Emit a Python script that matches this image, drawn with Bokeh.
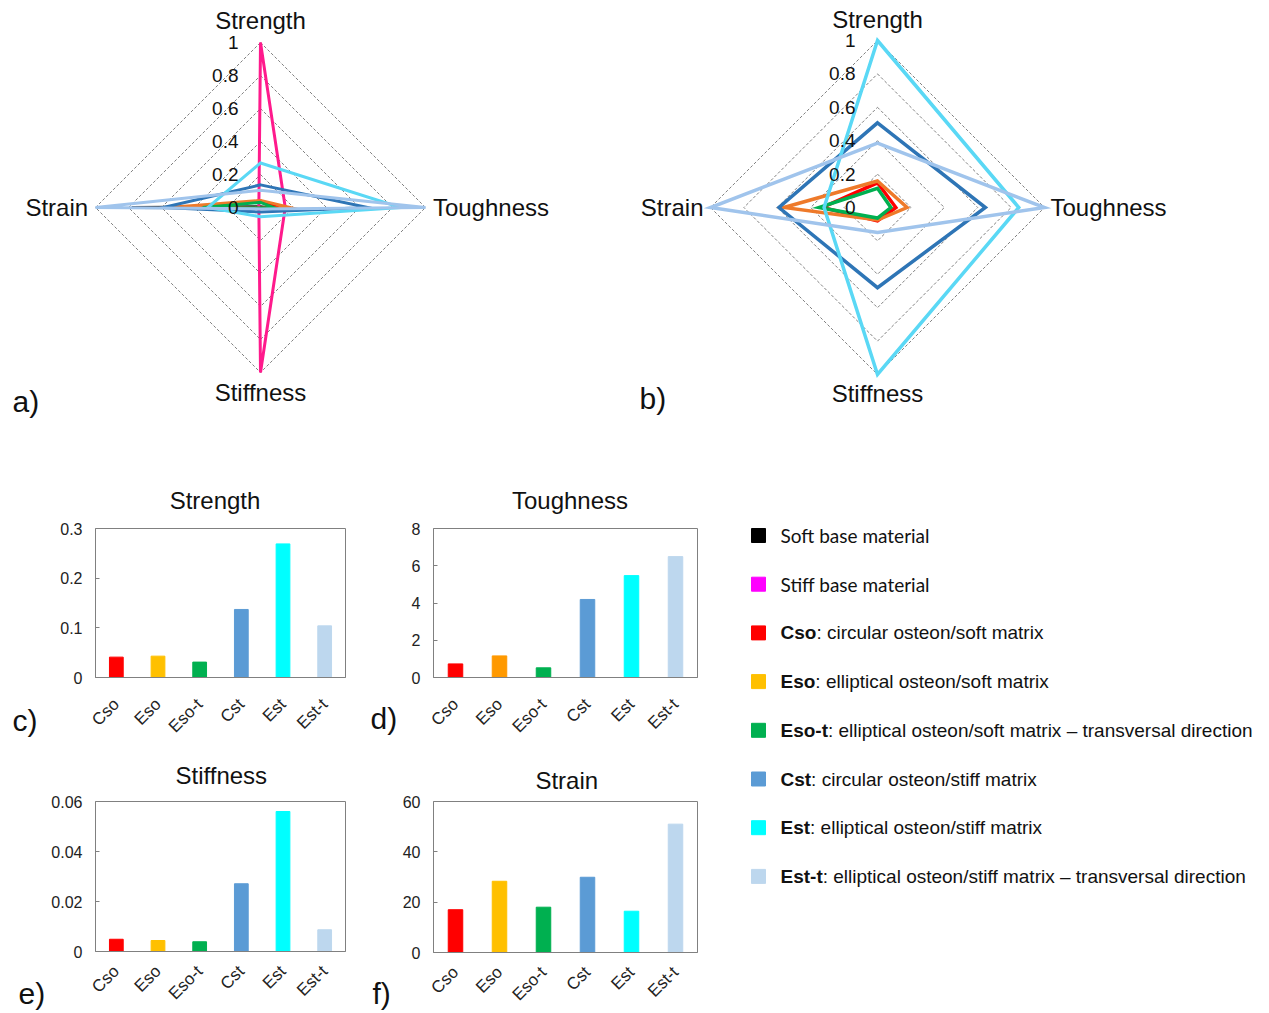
import math
from bokeh.plotting import figure
from bokeh.layouts import row, column
from bokeh.models import Range1d, FactorRange, FixedTicker
from bokeh.core.properties import value
from bokeh.embed import file_html
from bokeh.resources import INLINE

# ---------------- data ----------------
AXES = ["Strength", "Toughness", "Stiffness", "Strain"]
RING_LEVELS = [0.2, 0.4, 0.6, 0.8, 1.0]
RING_TICK_VALUES = [0, 0.2, 0.4, 0.6, 0.8, 1.0]
RING_TICK_LABELS = ["0", "0.2", "0.4", "0.6", "0.8", "1"]

# radar a) values normalised including base materials (Strength, Toughness, Stiffness, Strain)
a_soft = [0.004, 0.04, 0.002, 0.78]
a_stiff = [1.0, 0.15, 1.0, 0.01]
a_cso = [0.040, 0.11, 0.005, 0.33]
a_eso = [0.043, 0.18, 0.004, 0.56]
a_esot = [0.031, 0.08, 0.0035, 0.35]
a_cst = [0.137, 0.65, 0.027, 0.59]
a_est = [0.270, 0.85, 0.056, 0.32]
a_estt = [0.104, 1.0, 0.0085, 1.0]

# radar b) values normalised among composites only
b_cso = [0.148, 0.11, 0.08, 0.33]
b_eso = [0.159, 0.177, 0.075, 0.56]
b_esot = [0.115, 0.08, 0.063, 0.35]
b_cst = [0.507, 0.646, 0.48, 0.59]
b_est = [1.0, 0.846, 1.0, 0.32]
b_estt = [0.385, 1.0, 0.15, 1.0]

CATEGORIES = ["Cso", "Eso", "Eso-t", "Cst", "Est", "Est-t"]
strength_vals = [0.041, 0.043, 0.031, 0.137, 0.269, 0.104]
toughness_vals = [0.73, 1.16, 0.52, 4.19, 5.47, 6.49]
stiffness_vals = [0.0049, 0.0044, 0.0039, 0.0271, 0.0560, 0.0087]
strain_vals = [17.0, 28.3, 18.0, 29.9, 16.4, 51.0]

strength_ticks = [0, 0.1, 0.2, 0.3]
strength_tick_labels = ["0", "0.1", "0.2", "0.3"]
toughness_ticks = [0, 2, 4, 6, 8]
toughness_tick_labels = ["0", "2", "4", "6", "8"]
stiffness_ticks = [0, 0.02, 0.04, 0.06]
stiffness_tick_labels = ["0", "0.02", "0.04", "0.06"]
strain_ticks = [0, 20, 40, 60]
strain_tick_labels = ["0", "20", "40", "60"]

LEGEND_CODES = ["", "", "Cso", "Eso", "Eso-t", "Cst", "Est", "Est-t"]
LEGEND_DESC = ["Soft base material", "Stiff base material",
               ": circular osteon/soft matrix",
               ": elliptical osteon/soft matrix",
               ": elliptical osteon/soft matrix \u2013 transversal direction",
               ": circular osteon/stiff matrix",
               ": elliptical osteon/stiff matrix",
               ": elliptical osteon/stiff matrix \u2013 transversal direction"]

# ---------------- styles ----------------
AXIS_ANGLES = [math.pi / 2, 0.0, -math.pi / 2, math.pi]
FONT = "Liberation Sans"
TXT = "#111111"
C_SOFT = "#1a1a1a"
C_STIFF = "#FF1A8C"
C_CSO = "#FF0000"
C_ESO = "#EE7A2A"
C_ESOT = "#00B050"
C_CST = "#2E75B6"
C_EST = "#5AD8F5"
C_ESTT = "#A0C4EC"

BAR_COLORS = ["#FF0000", "#FFC000", "#00B050", "#5B9BD5", "#00FFFF", "#BDD7EE"]
BAR_COLORS_T = ["#FF0000", "#FF9900", "#00B050", "#5B9BD5", "#00FFFF", "#BDD7EE"]
LEGEND_COLORS = ["#000000", "#FF00FF", "#FF0000", "#FFC000", "#00B050", "#5B9BD5", "#00FFFF", "#BDD7EE"]


def blank_fig(width, height, x_range, y_range):
    p = figure(width=width, height=height, x_range=x_range, y_range=y_range,
               output_backend="svg", toolbar_location=None, x_axis_location=None,
               y_axis_location=None, min_border=0, min_border_left=0, min_border_right=0,
               min_border_top=0, min_border_bottom=0)
    p.grid.visible = False
    p.outline_line_color = None
    return p


def px_fig(width, height):
    # frame in local pixel units, y downward
    return blank_fig(width, height, Range1d(0, width), Range1d(height, 0))


def put(p, x, y, txt, size, align="left", font=FONT, style="normal"):
    p.text(x=[x], y=[y], text=[txt], text_align=align, text_baseline="middle",
           text_font=value(font), text_font_size=value(size), text_font_style=style,
           text_color=TXT)


def radar_fig(width, height, cx, cy, r, series, lw, label_pos, extra_texts):
    p = blank_fig(width, height, Range1d(-cx / r, (width - cx) / r),
                  Range1d(-(height - cy) / r, cy / r))
    for lv in RING_LEVELS:
        xs = [lv * math.cos(a) for a in AXIS_ANGLES]
        ys = [lv * math.sin(a) for a in AXIS_ANGLES]
        p.patch(xs, ys, fill_alpha=0, line_color="#808080", line_width=1, line_dash="3 2")
    for vals, col in series:
        xs = [v * math.cos(a) for v, a in zip(vals, AXIS_ANGLES)]
        ys = [v * math.sin(a) for v, a in zip(vals, AXIS_ANGLES)]
        p.patch(xs, ys, fill_alpha=0, line_color=col, line_width=lw, line_join="miter")
    p.text(x=[0] * len(RING_TICK_VALUES), y=RING_TICK_VALUES, text=RING_TICK_LABELS,
           x_offset=-22, text_align="right", text_baseline="middle",
           text_font=value(FONT), text_font_size=value("19px"), text_color=TXT)
    aligns = ["center", "left", "center", "right"]
    for name, (lx, ly), al in zip(AXES, label_pos, aligns):
        put(p, lx, ly, name, "24px", al)
    # extra texts given in local pixel positions
    for (tx, ty, txt, size, al) in extra_texts:
        put(p, (tx - cx) / r, (cy - ty) / r, txt, size, al)
    return p


TOP_H = 515
A_W = 630
pa = radar_fig(A_W, TOP_H, 260, 207, 165,
               [(a_soft, C_SOFT), (a_stiff, C_STIFF), (a_cso, C_CSO), (a_eso, C_ESO),
                (a_esot, C_ESOT), (a_cst, C_CST), (a_est, C_EST), (a_estt, C_ESTT)],
               3, [(0, 1.133), (1.045, 0), (0, -1.121), (-1.045, 0)],
               [(12, 401, "a)", "30px", "left"),
                (214.5, 500, "Strength", "24px", "center"),
                (569.5, 500, "Toughness", "24px", "center")])
pb = radar_fig(635, TOP_H, 877 - A_W, 207, 167,
               [(b_cso, C_CSO), (b_eso, C_ESO), (b_esot, C_ESOT), (b_cst, C_CST),
                (b_est, C_EST), (b_estt, C_ESTT)],
               3.5, [(0, 1.128), (1.036, 0), (0, -1.114), (-1.042, 0)],
               [(639 - A_W, 398, "b)", "30px", "left")])


def bar_fig(vals, colors, ticks, tick_labels, ymax, width, height, ml, mr, mt, mb, xstand):
    p = figure(width=width, height=height, x_range=FactorRange(*CATEGORIES),
               y_range=Range1d(0, ymax), output_backend="svg", toolbar_location=None,
               min_border=0, min_border_left=ml, min_border_right=mr, min_border_top=mt,
               min_border_bottom=mb)
    p.vbar(x=CATEGORIES, top=vals, width=0.33, color=colors)
    p.grid.visible = False
    p.outline_line_color = "#808080"
    p.outline_line_width = 1
    ya = p.yaxis[0]
    ya.ticker = FixedTicker(ticks=ticks)
    ya.major_label_overrides = {t: l for t, l in zip(ticks, tick_labels)}
    ya.axis_line_color = None
    ya.major_tick_in = 4
    ya.major_tick_out = 0
    ya.major_tick_line_color = "#808080"
    ya.minor_tick_line_color = None
    ya.major_label_standoff = 13
    ya.major_label_text_font = FONT
    ya.major_label_text_font_size = "16px"
    ya.major_label_text_color = "#222222"
    xa = p.xaxis[0]
    xa.major_label_orientation = math.pi / 4
    xa.major_tick_line_color = None
    xa.axis_line_color = "#808080"
    xa.major_label_standoff = xstand
    xa.major_label_text_font = FONT
    xa.major_label_text_font_size = "17px"
    xa.major_label_text_color = "#222222"
    return p


pc = bar_fig(strength_vals, BAR_COLORS, strength_ticks, strength_tick_labels, 0.3,
             321, 233, 49, 20, 13, 71, 18)
pe = bar_fig(stiffness_vals, BAR_COLORS, stiffness_ticks, stiffness_tick_labels, 0.06,
             321, 218, 51, 19, 6, 62, 11)
pd = bar_fig(toughness_vals, BAR_COLORS_T, toughness_ticks, toughness_tick_labels, 8,
             322, 233, 33, 23, 13, 71, 18)
pf = bar_fig(strain_vals, BAR_COLORS, strain_ticks, strain_tick_labels, 60,
             322, 218, 35, 21, 6, 61, 11)

# title strips between the bar rows (page y 748..795)
te = px_fig(321, 47)
put(te, 161.5, 27, "Stiffness", "24px", "center")
tf = px_fig(322, 47)
put(tf, 162.5, 32, "Strain", "24px", "center")

# panel-letter strips (page y from 515)
BOT_H = 498
l1 = px_fig(44, BOT_H)
put(l1, 12, 720 - TOP_H, "c)", "30px")
put(l1, 18, 993 - TOP_H, "e)", "30px")
l2 = px_fig(33, BOT_H)
put(l2, 5, 718 - TOP_H, "d)", "30px")
put(l2, 7, 993 - TOP_H, "f)", "30px")

# legend
LW = 545
pl = px_fig(LW, BOT_H)
row0, step = 535 - TOP_H, 48.7
ys = [row0 + i * step for i in range(len(LEGEND_CODES))]
pl.rect(x=[38] * len(ys), y=ys, width=14, height=14, color=LEGEND_COLORS)
BOLD_W = {"C": 722, "s": 556, "o": 611, "E": 667, "t": 333, "-": 333}
FS = 19
for code, desc, y in zip(LEGEND_CODES, LEGEND_DESC, ys):
    if code == "":
        put(pl, 60, y, desc, "%dpx" % FS, font="Lato")
    else:
        w = sum(BOLD_W[ch] for ch in code) / 1000 * FS
        put(pl, 60, y, code, "%dpx" % FS, style="bold")
        put(pl, 60 + w, y, desc, "%dpx" % FS)

layout = column(row(pa, pb),
                row(l1, column(pc, te, pe), l2, column(pd, tf, pf), pl))
open("out.html", "w").write(file_html(layout, INLINE))
